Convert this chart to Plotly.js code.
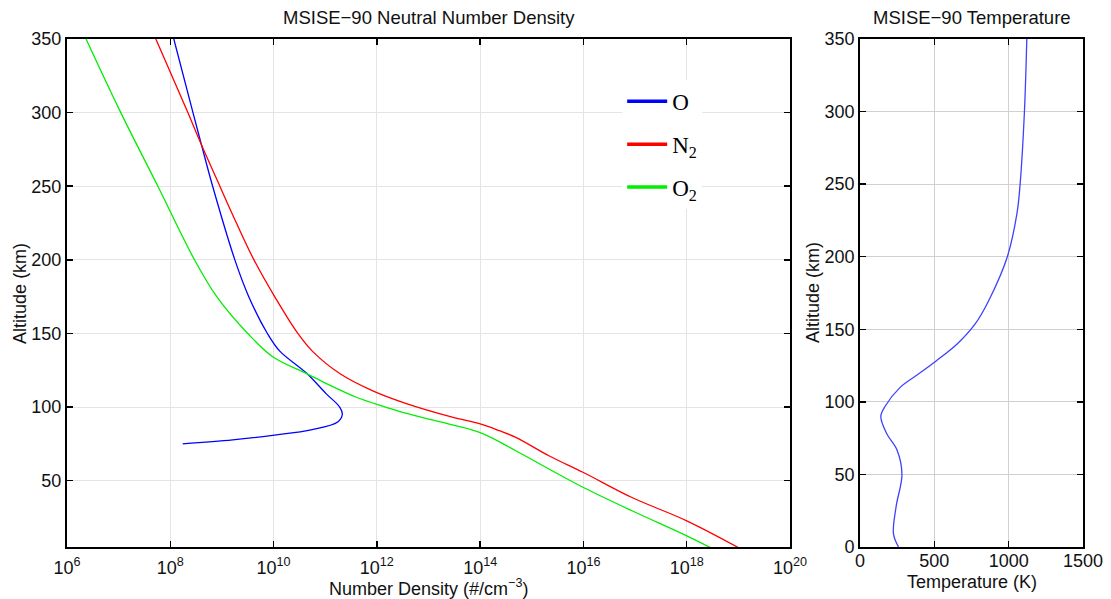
<!DOCTYPE html>
<html><head><meta charset="utf-8">
<script src="https://cdn.plot.ly/plotly-3.0.1.min.js"></script>
<style>html,body{margin:0;padding:0;background:#fff}#chart{width:1111px;height:599px}</style>
</head><body><div id="chart"></div>
<script>
// ---- data ----
const altO  = [75.1, 77.7, 80.8, 84.7, 89.9, 95, 100, 109, 123, 138, 150, 175, 200, 250, 280, 300, 350];
const densO = [1.74e8, 1.62e9, 9.55e9, 5.62e10, 1.74e11, 2.14e11, 1.91e11, 1.05e11, 4.37e10, 1.32e10, 7.59e9, 3.31e9, 1.78e9, 6.61e8, 3.89e8, 2.75e8, 1.17e8];

const altN2  = [4.6, 22.8, 38.6, 55.6, 67.0, 79.5, 84, 88.6, 93.2, 102.4, 111.2, 122.8, 138, 150, 175, 200, 225, 250, 280, 300, 350];
const densN2 = [1e19, 1e18, 8.71e16, 1e16, 2.14e15, 4.90e14, 2.34e14, 1e14, 2.88e13, 3.72e12, 8.13e11, 1.91e11, 5.62e10, 2.95e10, 1.05e10, 4.17e9, 1.91e9, 9.12e8, 3.80e8, 2.19e8, 5.25e7];

const altO2  = [4.6, 12.6, 29.6, 45.4, 58.0, 70.4, 82.7, 90.1, 97.1, 99.9, 106.7, 116, 122.8, 134, 150, 175, 200, 250, 300, 350];
const densO2 = [2.88e18, 1e18, 8.71e16, 1e16, 2.14e15, 4.90e14, 1e14, 1.62e13, 2.69e12, 1.51e12, 3.98e11, 1.05e11, 4.37e10, 9.77e9, 3.16e9, 7.94e8, 2.95e8, 5.75e7, 1.10e7, 2.34e6];

const altT  = [0, 9, 28, 50, 67, 78, 90, 97, 110, 118.5, 128, 140, 154, 170, 200, 230, 250, 300, 350];
const tempK = [259, 225, 243, 282, 248, 180, 140, 169, 270, 383, 510, 655, 777, 867, 991, 1056, 1077, 1106, 1122];

const seriesNames = ['O', 'N<sub>2</sub>', 'O<sub>2</sub>'];
const seriesColors = ['#0000ff', '#ff0000', '#00ee00'];

const densTickVals = [1e6, 1e8, 1e10, 1e12, 1e14, 1e16, 1e18, 1e20];
const densTickText = ['10<sup>6</sup>', '10<sup>8</sup>', '10<sup>10</sup>', '10<sup>12</sup>', '10<sup>14</sup>', '10<sup>16</sup>', '10<sup>18</sup>', '10<sup>20</sup>'];
const altTicksLeft = [50, 100, 150, 200, 250, 300, 350];
const altTicksRight = [0, 50, 100, 150, 200, 250, 300, 350];
const tempTicks = [0, 500, 1000, 1500];

const titleLeft = 'MSISE\u221290 Neutral Number Density';
const titleRight = 'MSISE\u221290 Temperature';
const xLabelLeft = 'Number Density (#/cm<sup>\u22123</sup>)';
const xLabelRight = 'Temperature (K)';
const yLabel = 'Altitude (km)';

// ---- traces ----
const densX = [densO, densN2, densO2];
const densY = [altO, altN2, altO2];
const traces = [];
for (let i = 0; i < 3; i++) {
  traces.push({
    x: densX[i], y: densY[i], type: 'scatter', mode: 'lines',
    line: {color: seriesColors[i], width: 1.3, shape: 'spline', smoothing: 1.0},
    xaxis: 'x', yaxis: 'y', showlegend: false, legendgroup: 'g' + i, hoverinfo: 'skip'
  });
}
// legend entries (thicker sample lines as in the reference)
for (let i = 0; i < 3; i++) {
  traces.push({
    x: [null], y: [null], type: 'scatter', mode: 'lines', name: seriesNames[i],
    line: {color: seriesColors[i], width: 3.5},
    xaxis: 'x', yaxis: 'y', showlegend: true, legendgroup: 'g' + i
  });
}
traces.push({
  x: tempK, y: altT, type: 'scatter', mode: 'lines',
  line: {color: '#4040ff', width: 1.3, shape: 'spline', smoothing: 1.0},
  xaxis: 'x2', yaxis: 'y2', showlegend: false, hoverinfo: 'skip'
});

const tickFont = {family: 'Liberation Sans, Arial, sans-serif', size: 18, color: '#111'};
const axBase = {
  showline: true, linecolor: '#000', linewidth: 2, mirror: 'ticks',
  ticks: 'inside', ticklen: 6, tickwidth: 1.5, tickcolor: '#000',
  showgrid: true, zeroline: false, tickfont: tickFont, fixedrange: true
};
const yDom = [0.0868, 0.9349];

const layout = {
  width: 1111, height: 599,
  margin: {l: 0, r: 0, t: 0, b: 0},
  paper_bgcolor: '#fff', plot_bgcolor: '#fff',
  showlegend: true,
  xaxis: Object.assign({}, axBase, {
    domain: [0.0603, 0.7111], type: 'log', range: [6, 20], anchor: 'y',
    tickvals: densTickVals, ticktext: densTickText, gridcolor: '#e4e4e4', ticklabelstandoff: 3
  }),
  yaxis: Object.assign({}, axBase, {
    domain: yDom, range: [5, 350], anchor: 'x', tickvals: altTicksLeft, gridcolor: '#e4e4e4'
  }),
  xaxis2: Object.assign({}, axBase, {
    domain: [0.7741, 0.9748], range: [0, 1500], anchor: 'y2', tickvals: tempTicks, gridcolor: '#d0d0d0',
    ticklabelstandoff: -4
  }),
  yaxis2: Object.assign({}, axBase, {
    domain: yDom, range: [0, 350], anchor: 'x2', tickvals: altTicksRight, gridcolor: '#d0d0d0'
  }),
  legend: {
    x: 0.560, y: 0.8667, xanchor: 'left', yanchor: 'top',
    bgcolor: '#fff', borderwidth: 0, itemwidth: 40, tracegroupgap: 10,
    font: {family: 'Liberation Serif, Times New Roman, serif', size: 23, color: '#000'}
  },
  annotations: [
    {text: titleLeft, xref: 'paper', yref: 'paper', x: 0.3857, y: 0.970, showarrow: false,
     xanchor: 'center', yanchor: 'middle', font: {family: 'Liberation Sans, Arial, sans-serif', size: 18.5, color: '#111'}},
    {text: titleRight, xref: 'paper', yref: 'paper', x: 0.8745, y: 0.970, showarrow: false,
     xanchor: 'center', yanchor: 'middle', font: {family: 'Liberation Sans, Arial, sans-serif', size: 18.5, color: '#111'}},
    {text: xLabelLeft, xref: 'paper', yref: 'paper', x: 0.3857, y: 0.0184, showarrow: false,
     xanchor: 'center', yanchor: 'middle', font: {family: 'Liberation Sans, Arial, sans-serif', size: 18, color: '#111'}},
    {text: xLabelRight, xref: 'paper', yref: 'paper', x: 0.875, y: 0.028, showarrow: false,
     xanchor: 'center', yanchor: 'middle', font: {family: 'Liberation Sans, Arial, sans-serif', size: 18, color: '#111'}},
    {text: yLabel, xref: 'paper', yref: 'paper', x: 0.018, y: 0.511, showarrow: false, textangle: -90,
     xanchor: 'center', yanchor: 'middle', font: {family: 'Liberation Sans, Arial, sans-serif', size: 18, color: '#111'}},
    {text: yLabel, xref: 'paper', yref: 'paper', x: 0.7318, y: 0.511, showarrow: false, textangle: -90,
     xanchor: 'center', yanchor: 'middle', font: {family: 'Liberation Sans, Arial, sans-serif', size: 18, color: '#111'}}
  ]
};

Plotly.newPlot('chart', traces, layout, {displayModeBar: false, staticPlot: true});
</script></body></html>
